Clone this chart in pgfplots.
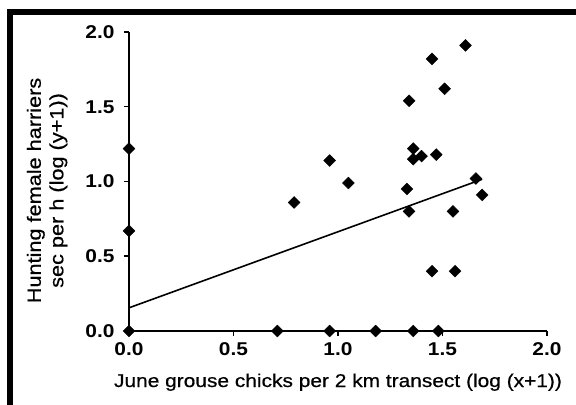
\documentclass[border=0pt]{standalone}
\usepackage{fontspec}
\setmainfont{Liberation Sans}[FakeStretch=1.13]
\newfontfamily\labelfont{Liberation Sans}[FakeStretch=1.13, FakeBold=0.6]
\usepackage{pgfplots}
\pgfplotsset{compat=1.18}
\begin{document}
\begin{tikzpicture}
\useasboundingbox (0,0) rectangle (576bp,405bp);
\fill[black] (7bp,390bp) rectangle (576bp,396bp);
\fill[black] (7bp,0bp) rectangle (13bp,396bp);
\begin{axis}[
  at={(129bp,74bp)}, anchor=south west,
  scale only axis, width=418bp, height=299bp,
  axis lines=left,
  axis line style={line width=1.6bp, -},
  xmin=0, xmax=2, ymin=0, ymax=2,
  xtick={0,0.5,1,1.5,2}, ytick={0,0.5,1,1.5,2},
  tick align=outside, major tick length=5bp,
  tick style={line width=1.5bp, black},
  /pgf/number format/.cd, fixed, fixed zerofill, precision=1, assume math mode=true,
  /pgfplots/.cd,
  tick label style={font=\fontsize{18.5bp}{20bp}\selectfont\bfseries},
  xticklabel style={yshift=-3bp},
  yticklabel style={xshift=-6bp},
  xlabel style={font=\labelfont\fontsize{18.5bp}{22.5bp}\selectfont},
  ylabel style={font=\labelfont\fontsize{19.2bp}{22.5bp}\selectfont},
  xlabel={June grouse chicks per 2 km transect (log (x+1))},
  xlabel style={at={(axis description cs:0.5,0)}, anchor=base, yshift=-56bp},
  ylabel={Hunting female harriers\\sec per h (log (y+1))},
  ylabel style={at={(axis description cs:-0.196,0.47)}, anchor=center, align=center},
  clip=false,
]
\addplot[only marks, mark=square*, mark size=4.2bp, mark options={fill=black, draw=black, rotate=45}] coordinates {
(0,0) (0,0.67) (0,1.22)
(0.71,0) (0.96,0) (1.18,0) (1.36,0) (1.48,0)
(0.79,0.86) (0.96,1.14) (1.05,0.99)
(1.33,0.95) (1.34,0.80) (1.34,1.54) (1.36,1.22) (1.36,1.15) (1.40,1.17) (1.47,1.18)
(1.45,1.82) (1.45,0.40) (1.51,1.62) (1.55,0.80) (1.56,0.40) (1.61,1.91) (1.66,1.02) (1.69,0.91)
};
\addplot[black, line width=1.6bp] coordinates {(0,0.155) (1.69,1.015)};
\end{axis}
\end{tikzpicture}
\end{document}
